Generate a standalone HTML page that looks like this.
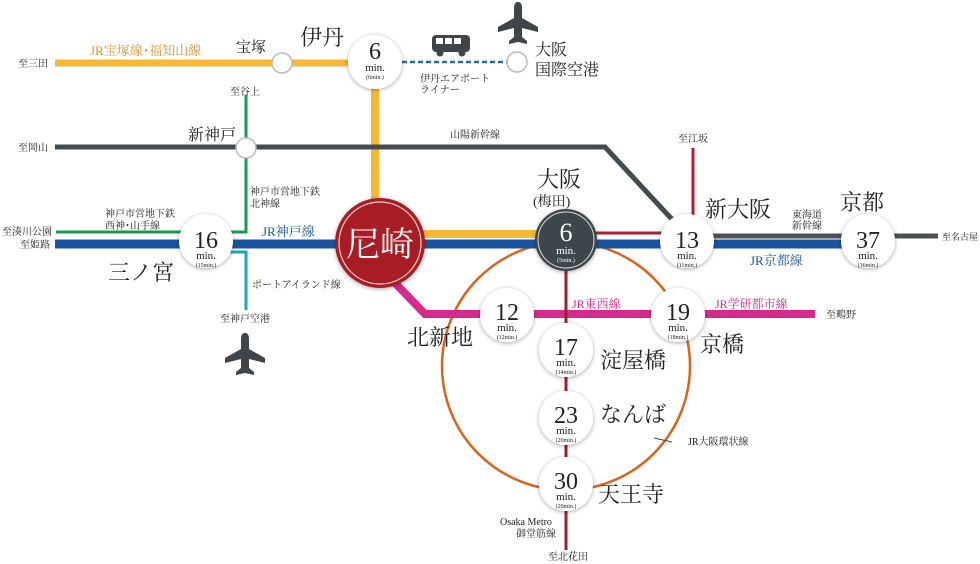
<!DOCTYPE html>
<html><head><meta charset="utf-8"><style>
html,body{margin:0;padding:0;background:#fff;}
svg{display:block;}
text{font-family:"Liberation Serif","Noto Serif CJK SC",serif;fill:#222;}
.s{font-size:10px;}
.big{font-size:22px;}
.n{font-family:"Liberation Serif",serif;text-anchor:middle;}
</style></head><body>
<svg width="980" height="564" viewBox="0 0 980 564" xmlns="http://www.w3.org/2000/svg">
<defs>
<filter id="sh" x="-30%" y="-30%" width="160%" height="160%"><feDropShadow dx="0" dy="1" stdDeviation="2" flood-color="#000" flood-opacity="0.35"/></filter>
</defs>
<circle cx="566" cy="366" r="124" fill="none" stroke="#d9641e" stroke-width="2.5"/>
<line x1="55" y1="63" x2="375" y2="63" stroke="#f5b935" stroke-width="7"/>
<line x1="402" y1="62" x2="508" y2="62" stroke="#2c6ba6" stroke-width="2.5" stroke-dasharray="5,3"/>
<line x1="375" y1="63" x2="375" y2="234" stroke="#f5b935" stroke-width="8"/>
<polyline points="55,147 605,147 680,228" fill="none" stroke="#444b50" stroke-width="5"/>
<polyline points="246,95 246,232 56,232" fill="none" stroke="#1a9a4c" stroke-width="3"/>
<polyline points="230,252 246,252 246,310" fill="none" stroke="#1aa6b7" stroke-width="3"/>
<line x1="380" y1="234" x2="560" y2="234" stroke="#f5b935" stroke-width="8"/>
<line x1="566" y1="233" x2="690" y2="233" stroke="#b02030" stroke-width="3"/>
<line x1="693" y1="148" x2="693" y2="235" stroke="#b02030" stroke-width="3"/>
<line x1="687" y1="236" x2="938" y2="236" stroke="#4a5055" stroke-width="5"/>
<line x1="55" y1="244" x2="868" y2="244" stroke="#1a54a0" stroke-width="9"/>
<polyline points="395,283 425,314 815,314" fill="none" stroke="#d52a8c" stroke-width="8"/>
<line x1="566" y1="240" x2="566" y2="550" stroke="#a11d2d" stroke-width="3"/>
<line x1="654" y1="438" x2="672" y2="442" stroke="#444" stroke-width="1"/>
<circle cx="282" cy="63" r="10" fill="#fff" stroke="#bbb" stroke-width="1.5"/>
<circle cx="517" cy="62" r="10" fill="#fff" stroke="#bbb" stroke-width="1.5"/>
<circle cx="246" cy="148" r="10" fill="#fff" stroke="#bbb" stroke-width="1.5"/>
<g filter="url(#sh)">
<circle cx="375" cy="62" r="27" fill="#fff"/>
<circle cx="206" cy="241" r="27" fill="#fff"/>
<circle cx="687" cy="241" r="27" fill="#fff"/>
<circle cx="868" cy="241" r="27" fill="#fff"/>
<circle cx="507" cy="315" r="27" fill="#fff"/>
<circle cx="678" cy="315" r="27" fill="#fff"/>
<circle cx="566" cy="350" r="27" fill="#fff"/>
<circle cx="566" cy="418" r="27" fill="#fff"/>
<circle cx="566" cy="484" r="27" fill="#fff"/>
<circle cx="566" cy="240" r="31" fill="#3e464c"/>
<circle cx="380" cy="243" r="45" fill="#a81e25"/>
</g>
<circle cx="566" cy="240" r="28" fill="none" stroke="#ddd" stroke-width="1"/>
<circle cx="380" cy="243" r="41" fill="none" stroke="#f3d0c8" stroke-width="1.2"/>
<text x="380" y="256" font-size="34" style="fill:#fff" text-anchor="middle">尼崎</text>
<g class="n">
<text x="375" y="59" font-size="24">6</text><text x="375" y="71" font-size="11">min.</text><text x="375" y="79" font-size="6">(6min.)</text>
<text x="206" y="248" font-size="24">16</text><text x="206" y="259" font-size="11">min.</text><text x="206" y="267" font-size="6">(15min.)</text>
<text x="566" y="241" font-size="26" style="fill:#fff">6</text><text x="566" y="254" font-size="11" style="fill:#fff">min.</text><text x="566" y="262" font-size="6" style="fill:#fff">(5min.)</text>
<text x="687" y="248" font-size="24">13</text><text x="687" y="259" font-size="11">min.</text><text x="687" y="267" font-size="6">(11min.)</text>
<text x="868" y="248" font-size="24">37</text><text x="868" y="259" font-size="11">min.</text><text x="868" y="267" font-size="6">(36min.)</text>
<text x="507" y="320" font-size="24">12</text><text x="507" y="331" font-size="11">min.</text><text x="507" y="339" font-size="6">(12min.)</text>
<text x="678" y="320" font-size="24">19</text><text x="678" y="331" font-size="11">min.</text><text x="678" y="339" font-size="6">(18min.)</text>
<text x="566" y="355" font-size="24">17</text><text x="566" y="366" font-size="11">min.</text><text x="566" y="374" font-size="6">(14min.)</text>
<text x="566" y="423" font-size="24">23</text><text x="566" y="434" font-size="11">min.</text><text x="566" y="442" font-size="6">(20min.)</text>
<text x="566" y="489" font-size="24">30</text><text x="566" y="500" font-size="11">min.</text><text x="566" y="508" font-size="6">(29min.)</text>
</g>
<text x="300" y="45" class="big">伊丹</text>
<text x="236" y="52" font-size="15">宝塚</text>
<text x="188" y="140" font-size="16">新神戸</text>
<text x="108" y="280" class="big">三ノ宮</text>
<text x="537" y="187" class="big">大阪</text>
<text x="533" y="206" font-size="14">(梅田)</text>
<text x="705" y="217" class="big">新大阪</text>
<text x="840" y="210" class="big">京都</text>
<text x="407" y="345" class="big">北新地</text>
<text x="700" y="352" class="big">京橋</text>
<text x="600" y="368" class="big">淀屋橋</text>
<text x="600" y="422" class="big">なんば</text>
<text x="598" y="502" class="big">天王寺</text>
<text x="535" y="55" font-size="16">大阪</text>
<text x="535" y="75" font-size="16">国際空港</text>
<text x="90" y="55" font-size="13" style="fill:#e0902a">JR宝塚線･福知山線</text>
<text x="262" y="236" font-size="13" style="fill:#1a54a0">JR神戸線</text>
<text x="750" y="265" font-size="13" style="fill:#1a54a0">JR京都線</text>
<text x="572" y="308" font-size="12" style="fill:#d52a8c">JR東西線</text>
<text x="715" y="308" font-size="12" style="fill:#d52a8c">JR学研都市線</text>
<g class="s">
<text x="18" y="67">至三田</text>
<text x="18" y="151">至岡山</text>
<text x="2" y="235">至湊川公園</text>
<text x="20" y="248">至姫路</text>
<text x="230" y="95">至谷上</text>
<text x="105" y="217">神戸市営地下鉄</text>
<text x="105" y="229">西神･山手線</text>
<text x="250" y="195">神戸市営地下鉄</text>
<text x="250" y="207">北神線</text>
<text x="252" y="288">ポートアイランド線</text>
<text x="220" y="322">至神戸空港</text>
<text x="450" y="138">山陽新幹線</text>
<text x="678" y="142">至江坂</text>
<text x="792" y="218">東海道</text>
<text x="792" y="229">新幹線</text>
<text x="942" y="240" font-size="9">至名古屋</text>
<text x="826" y="318">至鴫野</text>
<text x="420" y="82">伊丹エアポート</text>
<text x="420" y="93">ライナー</text>
<text x="688" y="445">JR大阪環状線</text>
<text x="500" y="525">Osaka Metro</text>
<text x="516" y="537">御堂筋線</text>
<text x="548" y="560">至北花田</text>
</g>
<g fill="#3e464c">
<rect x="432" y="35" width="38" height="17" rx="4"/>
<rect x="436" y="38" width="7" height="6" fill="#fff"/><rect x="445" y="38" width="7" height="6" fill="#fff"/><rect x="454" y="38" width="7" height="6" fill="#fff"/>
<circle cx="440" cy="53" r="3.5"/><circle cx="462" cy="53" r="3.5"/>
</g>
<g fill="#3e464c">
<path d="M518 2 q4 0 4 6 v10 l16 9 v5 l-16 -4 v9 l5 4 v3 l-9 -2 l-9 2 v-3 l5 -4 v-9 l-16 4 v-5 l16 -9 v-10 q0 -6 4 -6z"/>
<path d="M245 333 q4 0 4 6 v10 l16 9 v5 l-16 -4 v9 l5 4 v3 l-9 -2 l-9 2 v-3 l5 -4 v-9 l-16 4 v-5 l16 -9 v-10 q0 -6 4 -6z"/>
</g>
</svg>
</body></html>
